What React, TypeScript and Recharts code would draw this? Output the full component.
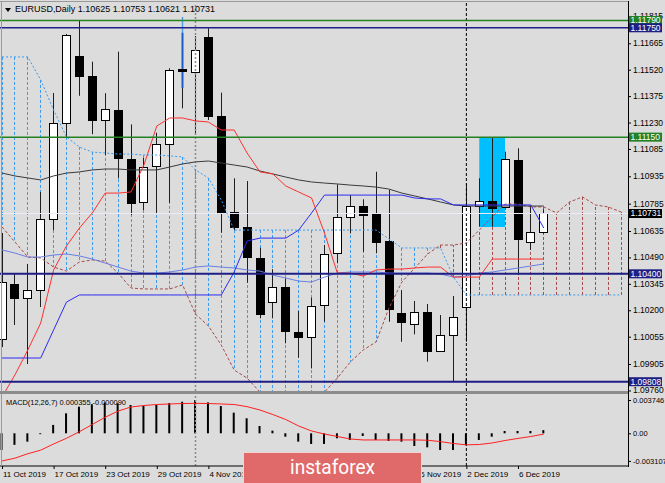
import React from "react";
import { ComposedChart, Bar, Line, XAxis, YAxis, ReferenceLine, ReferenceArea } from "recharts";

const W = 665;
const H = 483;
const BG = "#dcdcdc";
const FONT = "Liberation Sans, Arial, sans-serif";
const CLOUD_BLUE = "#3a9bf0";
const CLOUD_BROWN = "#a84a4a";

// bar 0 = 11 Oct 2019 ... bar 42 = 10 Dec 2019, the cloud runs on to bar 48
const dateTicks = [0, 4, 8, 12, 16, 20, 24, 28, 32, 36, 40];
const dateLabels = ["11 Oct 2019", "17 Oct 2019", "23 Oct 2019", "29 Oct 2019", "4 Nov 2019", "8 Nov 2019", "14 Nov 2019", "20 Nov 2019", "26 Nov 2019", "2 Dec 2019", "6 Dec 2019"];

const opens = [1.10046, 1.10344, 1.10266, 1.10311, 1.10699, 1.11226, 1.11595, 1.11487, 1.11244, 1.11299, 1.11032, 1.10798, 1.10988, 1.11111, 1.11522, 1.11509, 1.11698, 1.11266, 1.10738, 1.10659, 1.10488, 1.10247, 1.10326, 1.10082, 1.10055, 1.10229, 1.10513, 1.10713, 1.10774, 1.10727, 1.10582, 1.10183, 1.10128, 1.10192, 1.09976, 1.10068, 1.10219, 1.10774, 1.108, 1.10763, 1.11025, 1.10573, 1.10625];
const highs = [1.10624, 1.10404, 1.10454, 1.10849, 1.11392, 1.11716, 1.11789, 1.11564, 1.11391, 1.11619, 1.1122, 1.11036, 1.11174, 1.11528, 1.11808, 1.11705, 1.11747, 1.11394, 1.10924, 1.10909, 1.10543, 1.10425, 1.10375, 1.10196, 1.10269, 1.10558, 1.10891, 1.10832, 1.10809, 1.1096, 1.1086, 1.10311, 1.10251, 1.10234, 1.10174, 1.10278, 1.10897, 1.10924, 1.11147, 1.1107, 1.11089, 1.10774, 1.10753];
const lows = [1.09998, 1.10119, 1.09905, 1.10218, 1.1064, 1.11145, 1.11377, 1.11166, 1.11052, 1.10924, 1.10723, 1.1075, 1.10732, 1.1079, 1.11308, 1.11171, 1.11244, 1.10626, 1.1064, 1.10351, 1.10156, 1.10156, 1.10019, 1.0994, 1.09881, 1.10137, 1.10458, 1.10622, 1.10521, 1.10513, 1.10137, 1.10027, 1.10068, 1.09918, 1.09976, 1.0981, 1.10027, 1.10659, 1.10659, 1.10763, 1.10393, 1.10531, 1.10621];
const closes = [1.10357, 1.10266, 1.10311, 1.10701, 1.11226, 1.11709, 1.11486, 1.11244, 1.11303, 1.11037, 1.10792, 1.10988, 1.11111, 1.11518, 1.11509, 1.11628, 1.11262, 1.10735, 1.10653, 1.10494, 1.10183, 1.10329, 1.10082, 1.10055, 1.10223, 1.10509, 1.10713, 1.10774, 1.10727, 1.10576, 1.10207, 1.10132, 1.10192, 1.09978, 1.10064, 1.10165, 1.10772, 1.108, 1.10763, 1.11028, 1.10591, 1.10628, 1.10731];

// ichimoku + moving averages
const tenkan = [1.09724, 1.09845, 1.09982, 1.1013, 1.10421, 1.10553, 1.10651, 1.10734, 1.10843, 1.10843, 1.10849, 1.10997, 1.11211, 1.11255, 1.11255, 1.11239, 1.11233, 1.11189, 1.11189, 1.11063, 1.10959, 1.10948, 1.10882, 1.10849, 1.10816, 1.10624, 1.10404, 1.10404, 1.10388, 1.10421, 1.10426, 1.10426, 1.10432, 1.10437, 1.10437, 1.10382, 1.10382, 1.10382, 1.10481, 1.10481, 1.10481, 1.10481, 1.10481];
const kijun = [1.09938, 1.09938, 1.09938, 1.09938, 1.10092, 1.10245, 1.10284, 1.10284, 1.10284, 1.10284, 1.10284, 1.10284, 1.10284, 1.10284, 1.10284, 1.10284, 1.10284, 1.10284, 1.1041, 1.1058, 1.10596, 1.10596, 1.10596, 1.1064, 1.10734, 1.10832, 1.10832, 1.10832, 1.10832, 1.10832, 1.10832, 1.10832, 1.10816, 1.10811, 1.10811, 1.10778, 1.10778, 1.10778, 1.10778, 1.10778, 1.10778, 1.10778, 1.10651];
const maGrey = [1.10953, 1.10937, 1.10926, 1.10915, 1.10937, 1.10953, 1.10959, 1.1097, 1.10975, 1.10975, 1.1097, 1.1097, 1.1097, 1.10986, 1.11003, 1.11014, 1.11019, 1.11008, 1.10997, 1.10986, 1.10964, 1.10948, 1.10931, 1.10915, 1.10904, 1.10898, 1.10893, 1.10887, 1.10882, 1.10876, 1.10865, 1.10843, 1.10827, 1.10811, 1.10794, 1.10778, 1.10772, 1.10772, 1.10772, 1.10772, 1.10772, 1.10772, 1.10772];
const maBlue = [1.10531, 1.10514, 1.10492, 1.10492, 1.10503, 1.10509, 1.10498, 1.10481, 1.10459, 1.10437, 1.10415, 1.10404, 1.10404, 1.1041, 1.10421, 1.10437, 1.10443, 1.10437, 1.10432, 1.10421, 1.10415, 1.10393, 1.10377, 1.1036, 1.10355, 1.10382, 1.10404, 1.1041, 1.1041, 1.1041, 1.10404, 1.10404, 1.10404, 1.10404, 1.10399, 1.10382, 1.10388, 1.10404, 1.1041, 1.10421, 1.10432, 1.10443, 1.10454];
const spanA = [1.1159, 1.1159, 1.1159, 1.11464, 1.11299, 1.11151, 1.11096, 1.11068, 1.11063, 1.11057, 1.11057, 1.11052, 1.11052, 1.11047, 1.11041, 1.1097, 1.10926, 1.10805, 1.1064, 1.1064, 1.1064, 1.1064, 1.1064, 1.1064, 1.1064, 1.1064, 1.1064, 1.1064, 1.1064, 1.1064, 1.10591, 1.10542, 1.10542, 1.10542, 1.10542, 1.10382, 1.10284, 1.10284, 1.10284, 1.10284, 1.10284, 1.10284, 1.10284, 1.10284, 1.10284, 1.10284, 1.10284, 1.10284, 1.10284];
const spanB = [1.10657, 1.10575, 1.10492, 1.10487, 1.10437, 1.10415, 1.10465, 1.10476, 1.1047, 1.10404, 1.10322, 1.10317, 1.10317, 1.10317, 1.10339, 1.10179, 1.10114, 1.10009, 1.09872, 1.09828, 1.09751, 1.09707, 1.0968, 1.0968, 1.09707, 1.09751, 1.09828, 1.09916, 1.09982, 1.10026, 1.10212, 1.10355, 1.10432, 1.10509, 1.10558, 1.10558, 1.10569, 1.1064, 1.10712, 1.10783, 1.10783, 1.10767, 1.10767, 1.10734, 1.10794, 1.10822, 1.10778, 1.10767, 1.10739];

const macdHist = [-0.00188, -0.0013, -0.00094, -0.0001, 0.00094, 0.00225, 0.003, 0.00326, 0.00345, 0.00338, 0.00319, 0.00308, 0.00319, 0.0034, 0.00355, 0.003746, 0.00348, 0.00307, 0.00232, 0.00169, 0.00082, 0.0003, -0.00038, -0.00094, -0.0012, -0.0012, -0.00056, -0.00075, -0.0003, -0.00075, -0.00086, -0.00094, -0.00143, -0.00158, -0.00188, -0.00188, -0.00135, -0.00075, -0.00038, 0.00026, 0.00026, 0.00026, 0.000355];
const macdSignal = [-0.00311, -0.0028, -0.0023, -0.0019, -0.0012, -0.00056, 0.00018, 0.00099, 0.00181, 0.0025, 0.00296, 0.00313, 0.00324, 0.0033, 0.00335, 0.00337, 0.00335, 0.0033, 0.00324, 0.003, 0.00262, 0.00211, 0.00155, 0.00082, 0.00026, -0.00008, -0.00036, -0.00064, -0.00075, -0.00075, -0.00075, -0.00075, -0.00075, -0.00078, -0.00094, -0.00115, -0.0013, -0.00126, -0.00109, -0.00081, -0.00058, -0.00036, -0.00009];

const priceTicks = [1.11815, 1.11665, 1.1152, 1.11375, 1.1123, 1.11085, 1.10935, 1.10785, 1.10635, 1.1049, 1.10345, 1.102, 1.10055, 1.09905, 1.0976];
const macdTicks = [0.003746, 0, -0.003107];

const levels = [
  { price: 1.1179, text: "1.11790", color: "#238023", width: 1.5 },
  { price: 1.1175, text: "1.11750", color: "#1e1e84", width: 1.5 },
  { price: 1.1115, text: "1.11150", color: "#238023", width: 1.5 },
  { price: 1.104, text: "1.10400", color: "#1e1e84", width: 2 },
  { price: 1.09808, text: "1.09808", color: "#1e1e84", width: 2 },
];
const bid = { price: 1.10731, text: "1.10731", color: "#000" };
const tags = [...levels, bid];
const box = { from: 37, to: 39, low: 1.10657, high: 1.1115 };
// blue vertical mark drawn over the 31 Oct wick
const blueMark = { index: 14, top: 1.11808, mid: 1.11722, bottom: 1.1142 };
const separators = [
  { at: 15, color: "#8a8a8a", dash: "2 2", width: 1.5 },
  { at: 36, color: "#000", dash: "3 2", width: 1 },
];

const X_DOMAIN = [-0.155, 48.53];
const P_MIN = 1.09757;
const P_MAX = 1.11886;

const rows = spanA.map((a, i) => ({
  i,
  a,
  b: spanB[i],
  open: opens[i],
  high: highs[i],
  low: lows[i],
  close: closes[i],
  tenkan: tenkan[i],
  kijun: kijun[i],
  ma: maGrey[i],
  ma2: maBlue[i],
}));
const macdRows = macdHist.map((h, i) => ({ i, hist: h, signal: macdSignal[i] }));

const candleRange = (d: any) => {
  const v = [d.a, d.b, d.low, d.high].filter((n) => n != null);
  return [Math.max(Math.min(...v), P_MIN), Math.min(Math.max(...v), P_MAX)];
};

const CandleShape = (props: any) => {
  const { x, y, width, height, payload: d } = props;
  if (!d || !isFinite(y) || !isFinite(height)) return null;
  const [lo, hi] = candleRange(d);
  const top = Math.min(y, y + height);
  const span = Math.abs(height);
  const py = (p: number) => top + ((hi - Math.min(Math.max(p, P_MIN), P_MAX)) / (hi - lo)) * span;
  const cx = Math.round(x + width / 2) + 0.5;
  const hatch = d.a >= d.b ? CLOUD_BLUE : CLOUD_BROWN;
  let candle = null;
  if (d.open != null) {
    const yO = py(d.open);
    const yC = py(d.close);
    const bTop = Math.round(Math.min(yO, yC)) + 0.5;
    const bH = Math.max(1, Math.round(Math.abs(yO - yC)));
    const bull = d.close >= d.open;
    candle = (
      <g>
        <line x1={cx} x2={cx} y1={py(d.high)} y2={py(d.low)} stroke="#1e1e1e" />
        {d.i === blueMark.index && (
          <g>
            <line x1={cx} x2={cx} y1={py(blueMark.top)} y2={py(blueMark.mid)} stroke="#4aa0f0" strokeWidth={1.5} />
            <line x1={cx} x2={cx} y1={py(blueMark.mid)} y2={py(blueMark.bottom)} stroke="#1a5cc8" strokeWidth={2} />
          </g>
        )}
        <rect x={cx - 4} y={bTop} width={8} height={bH} fill={bull ? "#fff" : "#000"} stroke="#000" />
      </g>
    );
  }
  return (
    <g>
      <line x1={cx} x2={cx} y1={py(d.a)} y2={py(d.b)} stroke={hatch} strokeDasharray="3 2" />
      {candle}
    </g>
  );
};

// right-hand price scale: plain ticks, then coloured tags for the levels (drawn last, on top)
const PriceTick = (props: any) => {
  const { x, y, payload } = props;
  const tag = tags.find((t) => t.price === payload.value);
  if (tag) {
    return (
      <g>
        <rect x={x + 1} y={y - 4.5} width={33} height={9} fill={tag.color} />
        <text x={x + 2.5} y={y + 3} fontSize={8.5} fill="#fff" fontFamily={FONT}>
          {tag.text}
        </text>
      </g>
    );
  }
  return (
    <g>
      <line x1={x} x2={x + 3} y1={y + 0.5} y2={y + 0.5} stroke="#000" />
      <text x={x + 5} y={y + 3} fontSize={8.5} fill="#000" fontFamily={FONT}>
        {payload.value.toFixed(5)}
      </text>
    </g>
  );
};

const MacdTick = (props: any) => {
  const { x, y, payload } = props;
  const v = payload.value;
  return (
    <g>
      <line x1={x} x2={x + 3} y1={y + 0.5} y2={y + 0.5} stroke="#000" />
      <text x={x + 5} y={y + 3} fontSize={7.5} fill="#000" fontFamily={FONT}>
        {v === 0 ? "0.00" : v.toFixed(6)}
      </text>
    </g>
  );
};

const DateTick = (props: any) => {
  const { x, y, payload } = props;
  const idx = dateTicks.indexOf(payload.value);
  if (idx < 0) return null;
  return (
    <g>
      <line x1={x + 0.5} x2={x + 0.5} y1={y} y2={y + 3} stroke="#000" />
      <text x={x + 1} y={y + 11} fontSize={8} fill="#000" fontFamily={FONT}>
        {dateLabels[idx]}
      </text>
    </g>
  );
};

export default function App() {
  return (
    <div style={{ position: "absolute", left: 0, top: 0, width: W, height: H, background: BG, overflow: "hidden" }}>
      <div style={{ position: "absolute", left: 0, top: 0 }}>
        <ComposedChart width={W} height={395} data={rows} margin={{ top: 3, right: 0, bottom: 4, left: 0 }}>
          <XAxis dataKey="i" type="number" domain={X_DOMAIN} allowDataOverflow hide />
          <YAxis
            orientation="right"
            width={37}
            domain={[P_MIN, P_MAX]}
            allowDataOverflow
            ticks={[...priceTicks, ...tags.map((t) => t.price)]}
            interval={0}
            tick={<PriceTick />}
            tickSize={0}
            tickMargin={0}
            axisLine={false}
            tickLine={false}
          />
          <ReferenceArea x1={box.from} x2={box.to} y1={box.low} y2={box.high} fill="#00bfff" fillOpacity={1} stroke="none" />
          {separators.map((s) => (
            <ReferenceLine key={s.at} x={s.at} stroke={s.color} strokeDasharray={s.dash} strokeWidth={s.width} />
          ))}
          <ReferenceLine y={bid.price} stroke="#ececf8" />
          <Bar dataKey={candleRange} shape={CandleShape} barSize={10} isAnimationActive={false} />
          <Line dataKey="a" stroke={CLOUD_BLUE} strokeDasharray="2 2" dot={false} isAnimationActive={false} />
          <Line dataKey="b" stroke={CLOUD_BROWN} strokeDasharray="3 2" dot={false} isAnimationActive={false} />
          <Line dataKey="ma2" stroke="#6a7fe4" dot={false} isAnimationActive={false} />
          <Line dataKey="ma" stroke="#3a3a3a" dot={false} isAnimationActive={false} />
          <Line dataKey="kijun" stroke="#2c2cf0" dot={false} isAnimationActive={false} />
          <Line dataKey="tenkan" stroke="#ff3030" dot={false} isAnimationActive={false} />
          {levels.map((l) => (
            <ReferenceLine key={l.text} y={l.price} stroke={l.color} strokeWidth={l.width} />
          ))}
        </ComposedChart>
      </div>

      <div style={{ position: "absolute", left: 0, top: 0 }}>
        <ComposedChart width={W} height={H} data={macdRows} margin={{ top: 395, right: 0, bottom: 0, left: 0 }}>
          <XAxis
            dataKey="i"
            type="number"
            domain={X_DOMAIN}
            allowDataOverflow
            ticks={dateTicks}
            interval={0}
            height={17}
            tick={<DateTick />}
            tickSize={0}
            tickMargin={0}
            tickLine={false}
            axisLine={{ stroke: "#000" }}
          />
          <YAxis
            orientation="right"
            width={37}
            domain={[-0.00368, 0.00431]}
            allowDataOverflow
            ticks={macdTicks}
            interval={0}
            tick={<MacdTick />}
            tickSize={0}
            tickMargin={0}
            axisLine={false}
            tickLine={false}
          />
          {separators.map((s) => (
            <ReferenceLine key={s.at} x={s.at} stroke={s.color} strokeDasharray={s.dash} strokeWidth={s.width} />
          ))}
          <Bar dataKey="hist" fill="#000" barSize={2} isAnimationActive={false} />
          <Line dataKey="signal" stroke="#ff2020" dot={false} isAnimationActive={false} />
        </ComposedChart>
      </div>

      {/* frame */}
      <div style={{ position: "absolute", left: 0, top: 1, width: 628, height: 1, background: "#9a9a9a" }} />
      <div style={{ position: "absolute", left: 1, top: 1, width: 1, height: 465, background: "#9a9a9a" }} />
      <div style={{ position: "absolute", left: 0, top: 391, width: 628, height: 3, background: "#8c8c8c" }} />
      <div style={{ position: "absolute", left: 628, top: 1, width: 1, height: 466, background: "#000" }} />

      <svg width={W} height={H} style={{ position: "absolute", left: 0, top: 0, pointerEvents: "none" }}>
        <polygon points="5,8 11,8 8,12" fill="#000" />
        <text x={15} y={12} fontSize={9} fontFamily={FONT} fill="#000" textLength={200} lengthAdjust="spacingAndGlyphs">
          EURUSD,Daily  1.10625 1.10753 1.10621 1.10731
        </text>
        <text x={6} y={405} fontSize={8} fontFamily={FONT} fill="#000" textLength={120} lengthAdjust="spacingAndGlyphs">
          MACD(12,26,7) 0.000355,-0.000090
        </text>
        <rect x={243.5} y={452.5} width={178} height={32} fill="#e06a6a" stroke="#f2d4d4" />
        <text x={290} y={474} fontSize={21} fontFamily="Roboto, Arial, sans-serif" fill="#fff" textLength={85} lengthAdjust="spacingAndGlyphs">
          instaforex
        </text>
      </svg>
    </div>
  );
}
